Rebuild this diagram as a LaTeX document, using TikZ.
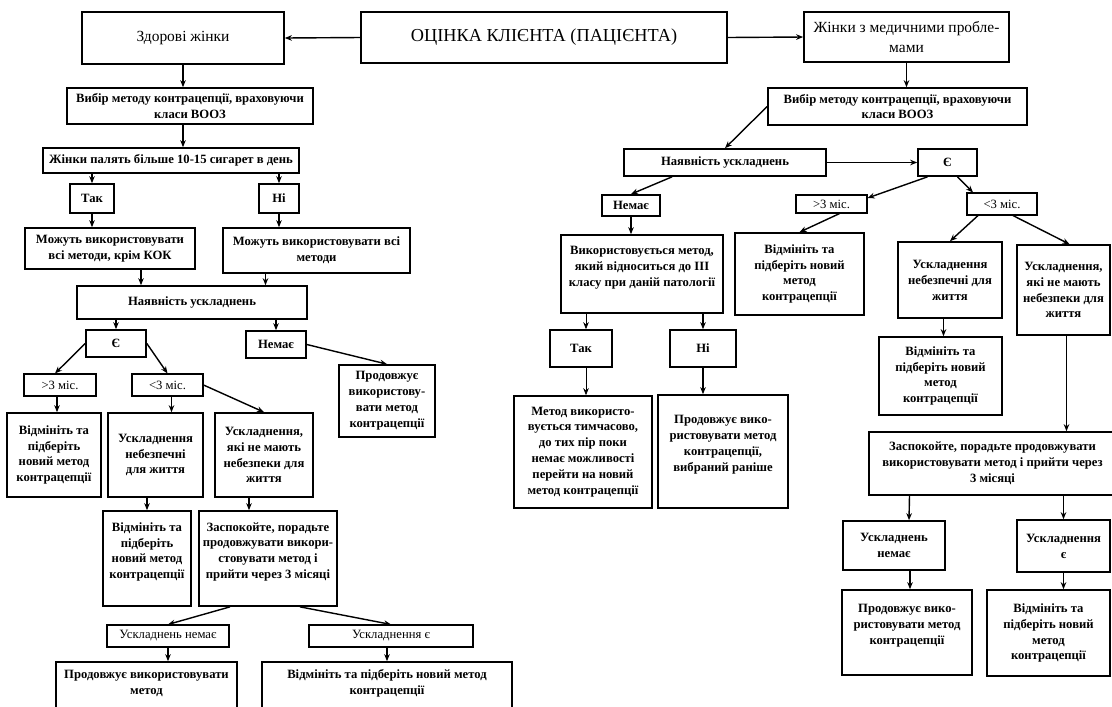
\documentclass[tikz,border=0pt]{standalone}
\usepackage{fontspec}
\setmainfont{Liberation Serif}
\usepackage{tikz}
\usetikzlibrary{calc,arrows.meta,positioning}
\tikzstyle{block}=[draw,rectangle,line width=1.2pt,inner sep=1pt,align=center,font=\fontsize{9}{11.3}\selectfont\bfseries]
\tikzstyle{lblock}=[block,font=\fontsize{11}{14}\selectfont]
\tikzstyle{sblock}=[block,line width=0.8pt,font=\fontsize{9}{11.3}\selectfont]
\tikzstyle{arr}=[-{Stealth[length=5pt,width=4pt]},line width=1pt]
\tikzstyle{tarr}=[arr,line width=0.5pt]
\tikzset{sz/.style 2 args={minimum width=#1*0.025cm,minimum height=#2*0.025cm}}

\begin{document}
\begin{tikzpicture}[x=0.025cm,y=-0.025cm]
\useasboundingbox (0,0) rectangle (1112,706);
\clip (0,0) rectangle (1112,706);
% top row
\draw (544, 37.5) node [lblock, sz={366}{51}, font=\fontsize{13}{15}\selectfont] (t) {ОЦІНКА КЛІЄНТА (ПАЦІЄНТА)};
\draw (183, 38) node [lblock, sz={202}{52}] (zd) {Здорові жінки};
\draw (906.5, 37) node [lblock, sz={205}{50}] (med) {Жінки з медичними пробле-\\мами};
\draw[arr] (t.west) -- (zd.east);
\draw[arr] (t.east) -- (med.west);

% healthy women
\draw (190, 106) node [block, sz={246}{36}] (vl) {Вибір методу контрацепції, враховуючи\\класи ВООЗ};
\draw (171, 160.5) node [block, sz={256}{25}] (sm) {Жінки палять більше 10-15 сигарет в день};
\draw (92, 198.5) node [block, sz={44}{29}] (tak1) {Так};
\draw (279, 198.5) node [block, sz={40}{29}] (ni1) {Ні};
\draw (110, 248.5) node [block, sz={170}{41}] (kok) {Можуть використовувати\\всі методи, крім КОК};
\draw (316.5, 250.5) node [block, sz={187}{45}] (vsi) {Можуть використовувати всі\\методи};
\draw (192, 302.5) node [block, sz={230}{33}] (nu1) {Наявність ускладнень};
\draw (116, 343.5) node [block, sz={60}{27}] (ye1) {Є};
\draw (276, 344.5) node [block, sz={60}{27}] (nemae1) {Немає};
\draw (387, 401) node [block, sz={96}{72}] (pr1) {Продовжує\\використову-\\вати метод\\контрацепції};
\draw (60, 385) node [sblock, sz={72}{22}] (gt1) {>3 міс.};
\draw (167.5, 385) node [sblock, sz={71}{22}] (lt1) {<3 міс.};
\draw (54, 455) node [block, sz={94}{84}] (vm1) {Відмініть та\\підберіть\\новий метод\\контрацепції};
\draw (155.5, 455) node [block, sz={95}{84}] (ud1) {Ускладнення\\небезпечні\\для життя};
\draw (264, 455) node [block, sz={98}{84}] (us1) {Ускладнення,\\які не мають\\небезпеки для\\життя};
\draw (147, 558.5) node [block, sz={88}{95}] (vm2) {Відмініть та\\підберіть\\новий метод\\контрацепції\\~};
\draw (268, 558.5) node [block, sz={138}{95}] (zs1) {Заспокойте, порадьте\\продовжувати викори-\\стовувати  метод і\\прийти через 3 місяці\\~};
\draw (168, 636) node [sblock, sz={122}{22}] (un1) {Ускладнень немає};
\draw (391, 636) node [sblock, sz={164}{22}] (ue1) {Ускладнення є};
\draw (146.5, 690) node [block, sz={181}{56}] (pr2) {Продовжує використовувати\\метод\\~};
\draw (387, 690) node [block, sz={250}{56}] (vm3) {Відмініть та підберіть новий метод\\контрацепції\\~};

\coordinate (k1) at ($(kok.south)+(31,0)$);
\coordinate (v1) at ($(vsi.south)+(-51,0)$);
\coordinate (g1) at ($(gt1.south)+(-3,0)$);
\coordinate (l1) at ($(lt1.south)+(4,0)$);
\coordinate (u1) at ($(us1.south)+(-15,0)$);
\draw[arr] (zd.south) -- (zd.south |- vl.north);
\draw[arr] (zd.south |- vl.south) -- (zd.south |- sm.north);
\draw[arr] (tak1.north |- sm.south) -- (tak1.north);
\draw[arr] (ni1.north |- sm.south) -- (ni1.north);
\draw[arr] (tak1.south) -- (tak1.south |- kok.north);
\draw[arr] (ni1.south) -- (ni1.south |- vsi.north);
\draw[arr] (k1) -- (k1 |- nu1.north);
\draw[arr] (v1) -- (v1 |- nu1.north);
\draw[arr] (ye1.north |- nu1.south) -- (ye1.north);
\draw[arr] (nemae1.north |- nu1.south) -- (nemae1.north);
\draw[arr] (nemae1.east) -- (pr1.north);
\draw[arr] (ye1.west) -- ($(gt1.north)+(-5,0)$);
\draw[arr] (ye1.east) -- (lt1.north);
\draw[arr] (g1) -- (g1 |- vm1.north);
\draw[arr] (l1) -- (l1 |- ud1.north);
\draw[arr] (lt1.east) -- (us1.north);
\draw[arr] (vm2.north |- ud1.south) -- (vm2.north);
\draw[arr] (u1) -- (u1 |- zs1.north);
\draw[arr] ($(zs1.south)+(-38,0)$) -- (un1.north);
\draw[arr] ($(zs1.south)+(32,0)$) -- (ue1.north);
\draw[arr] (un1.south) -- (un1.south |- pr2.north);
\draw[arr] (vm3.north |- ue1.south) -- (vm3.north);

% women with medical problems
\draw (897.5, 106.5) node [block, sz={259}{37}] (vr) {Вибір методу контрацепції, враховуючи\\класи ВООЗ};
\draw (725, 162.5) node [block, sz={202}{27}] (nu2) {Наявність ускладнень};
\draw (947.5, 162.5) node [block, sz={59}{27}] (ye2) {Є};
\draw (631, 205.5) node [block, sz={58}{21}] (nemae2) {Немає};
\draw (831.5, 204) node [sblock, sz={71}{18}] (gt2) {>3 міс.};
\draw (1002, 204) node [sblock, sz={70}{22}] (lt2) {<3 міс.};
\draw (642, 274) node [block, sz={162}{78}] (m3) {Використовується метод,\\який відноситься до III\\класу при даній патології\\~};
\draw (799.5, 274) node [block, sz={129}{82}] (vm4) {Відмініть та\\підберіть новий\\метод\\контрацепції};
\draw (950, 280) node [block, sz={104}{76}] (ud2) {Ускладнення\\небезпечні для\\життя};
\draw (1063.5, 290) node [block, sz={93}{90}] (us2) {Ускладнення,\\які не мають\\небезпеки для\\життя};
\draw (940.5, 376) node [block, sz={123}{78}] (vm5) {Відмініть та\\підберіть новий\\метод\\контрацепції};
\draw (992.5, 463.5) node [block, sz={247}{63}] (zs2) {Заспокойте, порадьте продовжувати\\використовувати  метод і прийти через\\3 місяці};
\draw (581, 348.5) node [block, sz={62}{37}] (tak2) {Так};
\draw (703, 348.5) node [block, sz={66}{37}] (ni2) {Ні};
\draw (583, 452) node [block, sz={138}{112}] (tm) {Метод використо-\\вується тимчасово,\\до тих пір поки\\немає можливості\\перейти на новий\\метод контрацепції};
\draw (723, 451.5) node [block, sz={130}{113}] (pr3) {Продовжує вико-\\ристовувати метод\\контрацепції,\\вибраний раніше\\~};
\draw (894, 545.5) node [block, sz={102}{49}] (un2) {Ускладнень\\немає};
\draw (1063.5, 546) node [block, sz={93}{52}] (ue2) {Ускладнення\\є};
\draw (907, 632.5) node [block, sz={130}{85}] (pr4) {Продовжує вико-\\ристовувати метод\\контрацепції\\~};
\draw (1048.5, 633) node [block, sz={123}{86}] (vm6) {Відмініть та\\підберіть новий\\метод\\контрацепції};

\coordinate (t2a) at ($(tak2.north)+(5,0)$);
\coordinate (t2b) at ($(tak2.south)+(5,0)$);
\coordinate (v5) at ($(vm5.north)+(3,0)$);
\coordinate (u2) at ($(us2.south)+(3,0)$);
\coordinate (n2) at ($(un2.south)+(16,0)$);
\draw[arr] (med.south) -- (med.south |- vr.north);
\draw[arr] (vr.west) -- (nu2.north);
\draw[arr] (nu2.east) -- (ye2.west);
\draw[arr] ($(nu2.south)+(-53,0)$) -- (nemae2.north);
\draw[arr] ($(ye2.south)+(-20,0)$) -- ($(gt2.east)+(0,-6)$);
\draw[arr] ($(ye2.south)+(10,0)$) -- ($(lt2.north)+(-29,0)$);
\draw[arr] ($(gt2.south)+(8,0)$) -- (vm4.north);
\draw[arr] ($(lt2.south)+(-24,0)$) -- (ud2.north);
\draw[arr] ($(lt2.south)+(11,0)$) -- ($(us2.north)+(6,0)$);
\draw[arr] (nemae2.south) -- (nemae2.south |- m3.north);
\draw[tarr] (t2a |- m3.south) -- (t2a);
\draw[arr] (ni2.north |- m3.south) -- (ni2.north);
\draw[tarr] (t2b) -- (t2b |- tm.north);
\draw[arr] (ni2.south) -- (ni2.south |- pr3.north);
\draw[arr] (v5 |- ud2.south) -- (v5);
\draw[arr] (u2) -- (u2 |- zs2.north);
\draw[arr] ($(zs2.south)+(-83,0)$) -- ($(un2.north)+(15,0)$);
\draw[arr] (ue2.north |- zs2.south) -- (ue2.north);
\draw[arr] (n2) -- (n2 |- pr4.north);
\draw[arr] (ue2.south) -- (ue2.south |- vm6.north);
\end{tikzpicture}
\end{document}
